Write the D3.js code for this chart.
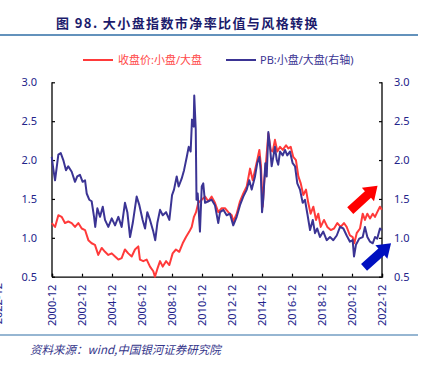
<!DOCTYPE html>
<html>
<head>
<meta charset="utf-8">
<script src="https://cdn.jsdelivr.net/npm/d3@7/dist/d3.min.js"></script>
<style>
  body { margin: 0; background: #fff; }
  svg { display: block; }
  text { font-family: "Noto Sans", "Noto Sans CJK SC", sans-serif; }
</style>
</head>
<body>
<script>
// ----- data (decimal year, value) -----
var priceRatio = [ // 收盘价:小盘/大盘 (left axis)
  [2000.90,1.19],[2001.12,1.14],[2001.34,1.29],[2001.56,1.27],[2001.78,1.19],[2002.00,1.21],
  [2002.23,1.19],[2002.45,1.14],[2002.67,1.19],[2002.90,1.12],[2003.12,1.10],[2003.34,0.97],
  [2003.56,0.93],[2003.78,0.91],[2004.00,0.78],[2004.23,0.87],[2004.45,0.82],[2004.67,0.78],
  [2004.90,0.80],[2005.12,0.76],[2005.34,0.72],[2005.56,0.74],[2005.78,0.85],[2006.00,0.80],
  [2006.23,0.76],[2006.45,0.85],[2006.67,0.89],[2006.78,0.72],[2007.00,0.70],[2007.23,0.72],
  [2007.45,0.63],[2007.67,0.57],[2007.78,0.50],[2007.94,0.60],[2008.12,0.70],[2008.30,0.63],
  [2008.52,0.70],[2008.74,0.65],[2008.96,0.80],[2009.18,0.85],[2009.40,0.82],[2009.63,0.93],
  [2009.85,1.01],[2010.07,1.08],[2010.23,1.14],[2010.38,1.27],[2010.52,1.33],[2010.67,1.45],
  [2010.90,1.49],[2011.12,1.53],[2011.34,1.47],[2011.56,1.53],[2011.78,1.45],[2012.00,1.33],
  [2012.23,1.38],[2012.45,1.38],[2012.67,1.33],[2012.90,1.29],[2013.00,1.21],[2013.23,1.31],
  [2013.45,1.47],[2013.67,1.57],[2013.90,1.66],[2014.12,1.89],[2014.30,1.74],[2014.45,1.87],
  [2014.60,2.00],[2014.74,2.13],[2014.85,1.92],[2014.96,1.40],[2015.07,1.74],[2015.18,1.96],
  [2015.34,2.34],[2015.50,2.13],[2015.63,2.11],[2015.78,2.26],[2015.94,2.11],[2016.12,2.17],
  [2016.30,2.13],[2016.52,2.19],[2016.67,2.15],[2016.83,2.17],[2017.00,2.04],[2017.18,2.00],
  [2017.34,1.79],[2017.50,1.70],[2017.67,1.55],[2017.85,1.62],[2018.00,1.45],[2018.16,1.31],
  [2018.34,1.40],[2018.52,1.23],[2018.67,1.31],[2018.83,1.14],[2019.05,1.23],[2019.27,1.14],
  [2019.50,1.10],[2019.72,1.12],[2019.94,1.19],[2020.16,1.14],[2020.38,1.19],[2020.56,1.14],
  [2020.78,1.03],[2020.96,1.01],[2021.07,0.93],[2021.23,1.06],[2021.45,1.12],[2021.63,1.31],
  [2021.78,1.23],[2021.94,1.31],[2022.12,1.25],[2022.30,1.31],[2022.45,1.27],[2022.60,1.33],
  [2022.78,1.40],[2022.90,1.36]
];
var pbRatio = [ // PB:小盘/大盘 (right axis)
  [2000.90,2.04],[2001.00,1.89],[2001.12,1.74],[2001.34,2.07],[2001.50,2.09],[2001.67,2.00],
  [2001.85,1.87],[2002.00,1.92],[2002.23,1.85],[2002.45,1.72],[2002.60,1.79],[2002.78,1.81],
  [2002.96,1.72],[2003.12,1.74],[2003.23,1.57],[2003.40,1.49],[2003.56,1.47],[2003.72,1.27],
  [2003.80,1.14],[2003.94,1.38],[2004.12,1.27],[2004.30,1.40],[2004.45,1.23],[2004.67,1.14],
  [2004.90,1.25],[2005.12,1.16],[2005.34,1.27],[2005.56,1.14],[2005.78,1.45],[2005.94,1.33],
  [2006.12,1.01],[2006.30,1.19],[2006.56,1.53],[2006.74,1.42],[2006.96,1.23],[2007.12,1.12],
  [2007.27,1.33],[2007.45,1.23],[2007.67,1.08],[2007.80,0.97],[2007.94,1.19],[2008.12,1.36],
  [2008.30,1.29],[2008.52,1.33],[2008.74,1.23],[2008.92,1.55],[2009.05,1.62],[2009.23,1.79],
  [2009.36,1.66],[2009.56,1.76],[2009.72,1.87],[2009.90,2.04],[2010.03,2.17],[2010.16,2.11],
  [2010.25,2.52],[2010.36,2.43],[2010.40,2.83],[2010.50,2.39],[2010.55,1.49],[2010.63,1.57],
  [2010.78,1.08],[2010.90,1.66],[2011.00,1.70],[2011.12,1.45],[2011.34,1.47],[2011.56,1.49],
  [2011.78,1.42],[2012.00,1.19],[2012.12,1.33],[2012.34,1.36],[2012.56,1.29],[2012.78,1.31],
  [2013.00,1.16],[2013.23,1.27],[2013.45,1.42],[2013.67,1.53],[2013.90,1.62],[2014.07,1.74],
  [2014.23,1.62],[2014.45,1.79],[2014.60,1.96],[2014.74,2.04],[2014.83,1.87],[2014.92,1.33],
  [2015.00,1.49],[2015.14,1.96],[2015.23,1.79],[2015.34,2.36],[2015.45,2.17],[2015.56,1.92],
  [2015.67,2.04],[2015.78,2.17],[2015.90,2.00],[2016.00,1.94],[2016.12,2.11],[2016.30,2.06],
  [2016.45,2.13],[2016.60,2.06],[2016.78,2.11],[2016.96,1.96],[2017.12,1.92],[2017.27,1.70],
  [2017.45,1.62],[2017.63,1.45],[2017.78,1.49],[2017.94,1.31],[2018.12,1.10],[2018.30,1.23],
  [2018.45,1.06],[2018.60,1.12],[2018.78,1.01],[2019.00,1.08],[2019.23,0.97],[2019.45,1.01],
  [2019.67,0.97],[2019.90,1.03],[2020.12,1.14],[2020.34,1.12],[2020.56,1.03],[2020.78,0.95],
  [2020.96,0.97],[2021.05,0.76],[2021.18,0.91],[2021.40,0.99],[2021.63,1.01],[2021.78,1.14],
  [2021.94,1.01],[2022.12,0.95],[2022.30,0.93],[2022.45,1.01],[2022.60,0.99],[2022.78,1.12],
  [2022.90,1.10]
];
var xTickLabels = ["2000-12","2002-12","2004-12","2006-12","2008-12","2010-12",
                   "2012-12","2014-12","2016-12","2018-12","2020-12","2022-12"];
var yTicks = [0.5, 1.0, 1.5, 2.0, 2.5, 3.0];
var seriesNames = ["收盘价:小盘/大盘", "PB:小盘/大盘(右轴)"];
// annotation arrows: [from year, from value, to year, to value]
var arrows = [
  { from: [2020.80, 1.35], to: [2022.62, 1.67], color: "#ff0000" },
  { from: [2021.72, 0.62], to: [2023.52, 0.93], color: "#0010c0" }
];

var W = 433, H = 369;
var red = "#ff3a3a", blue = "#3b3494", navy = "#23238a";

function ym(s) { var p = s.split("-"); return +p[0] + (+p[1] - 1) / 12; }

var svg = d3.select("body").append("svg").attr("width", W).attr("height", H);

var x = d3.scaleLinear().domain([ym("2000-12"), ym("2022-12")]).range([52, 382]);
var yL = d3.scaleLinear().domain([0.5, 3.0]).range([276.7, 82.3]);
var yR = d3.scaleLinear().domain([0.5, 3.0]).range([276.7, 82.3]);

// title
svg.append("text").attr("x", 56).attr("y", 28)
  .style("font-family", "'Noto Sans CJK SC', sans-serif")
  .style("font-weight", "bold").style("font-size", "13px")
  .style("letter-spacing", "1.4px")
  .attr("fill", "#1c1c6c")
  .text("图 98. 大小盘指数市净率比值与风格转换");
svg.append("line").attr("x1", 0).attr("x2", 418).attr("y1", 35).attr("y2", 35)
  .attr("stroke", "#2f6ea6").attr("stroke-width", 1.5);
svg.append("line").attr("x1", 0).attr("x2", 418).attr("y1", 335).attr("y2", 335)
  .attr("stroke", "#2f6ea6").attr("stroke-width", 1.2);

// source
svg.append("text").attr("x", 30).attr("y", 354)
  .style("font-family", "'Noto Sans CJK SC', serif")
  .style("font-style", "italic").style("font-size", "11.5px")
  .attr("fill", "#35358a")
  .text("资料来源：wind,中国银河证券研究院");

// legend
var leg = svg.append("g");
[[83, 118, red, "#ff4a4a"], [226, 260, blue, blue]].forEach(function(l, i) {
  leg.append("line").attr("x1", l[0]).attr("x2", l[0] + 30).attr("y1", 60).attr("y2", 60)
    .attr("stroke", l[2]).attr("stroke-width", 2);
  leg.append("text").attr("x", l[1]).attr("y", 64)
    .style("font-size", "11px").attr("fill", l[3]).text(seriesNames[i]);
});

// axes
var axL = svg.append("g").attr("transform", "translate(52,0)")
  .call(d3.axisLeft(yL).tickValues(yTicks).tickSize(-3).tickPadding(15).tickFormat(d3.format(".1f")));
var axR = svg.append("g").attr("transform", "translate(382,0)")
  .call(d3.axisRight(yR).tickValues(yTicks).tickSize(-3).tickPadding(12).tickFormat(d3.format(".1f")));
var axB = svg.append("g").attr("transform", "translate(0,276.7)")
  .call(d3.axisBottom(x).tickValues(xTickLabels.map(ym)).tickSize(-3)
    .tickFormat(function(d, i) { return xTickLabels[i]; }));
[axL, axR, axB].forEach(function(a) {
  a.select(".domain").attr("stroke", "#000").attr("stroke-width", 1.3);
  a.selectAll(".tick line").attr("stroke", "#000").attr("stroke-width", 1.2);
  a.selectAll("text").attr("fill", navy).style("font-size", "11px")
    .style("font-family", "'Noto Sans', sans-serif");
});
axL.select(".domain").attr("d", "M0,82.3V276.7");
axR.select(".domain").attr("d", "M0,82.3V276.7");
axB.selectAll(".tick text")
  .attr("transform", "rotate(-90)").attr("text-anchor", "end")
  .attr("x", -8).attr("y", 0).attr("dy", "0.35em");

// stray clipped label at the left edge
svg.append("text").attr("transform", "translate(-2,283) rotate(-90)")
  .attr("text-anchor", "end").attr("dy", "0.35em")
  .style("font-size", "11px").attr("fill", navy).text(xTickLabels[xTickLabels.length - 1]);

// lines
var lineL = d3.line().x(function(d) { return x(d[0]); }).y(function(d) { return yL(d[1]); });
var lineR = d3.line().x(function(d) { return x(d[0]); }).y(function(d) { return yR(d[1]); });
svg.append("path").datum(priceRatio).attr("d", lineL)
  .attr("fill", "none").attr("stroke", red).attr("stroke-width", 2).attr("stroke-linejoin", "round");
svg.append("path").datum(pbRatio).attr("d", lineR)
  .attr("fill", "none").attr("stroke", blue).attr("stroke-width", 2).attr("stroke-linejoin", "round");

// arrows
arrows.forEach(function(a) {
  var x0 = x(a.from[0]), y0 = yL(a.from[1]), x1 = x(a.to[0]), y1 = yL(a.to[1]);
  var dx = x1 - x0, dy = y1 - y0, len = Math.sqrt(dx * dx + dy * dy);
  var ux = dx / len, uy = dy / len, nx = -uy, ny = ux;
  var hw = 4.5, hh = 9, hl = 13;
  var bx = x1 - ux * hl, by = y1 - uy * hl;
  var pts = [
    [x0 + nx * hw, y0 + ny * hw], [bx + nx * hw, by + ny * hw], [bx + nx * hh, by + ny * hh],
    [x1, y1], [bx - nx * hh, by - ny * hh], [bx - nx * hw, by - ny * hw], [x0 - nx * hw, y0 - ny * hw]
  ];
  svg.append("polygon").attr("points", pts.map(function(p) { return p.join(","); }).join(" "))
    .attr("fill", a.color);
});
</script>
</body>
</html>
